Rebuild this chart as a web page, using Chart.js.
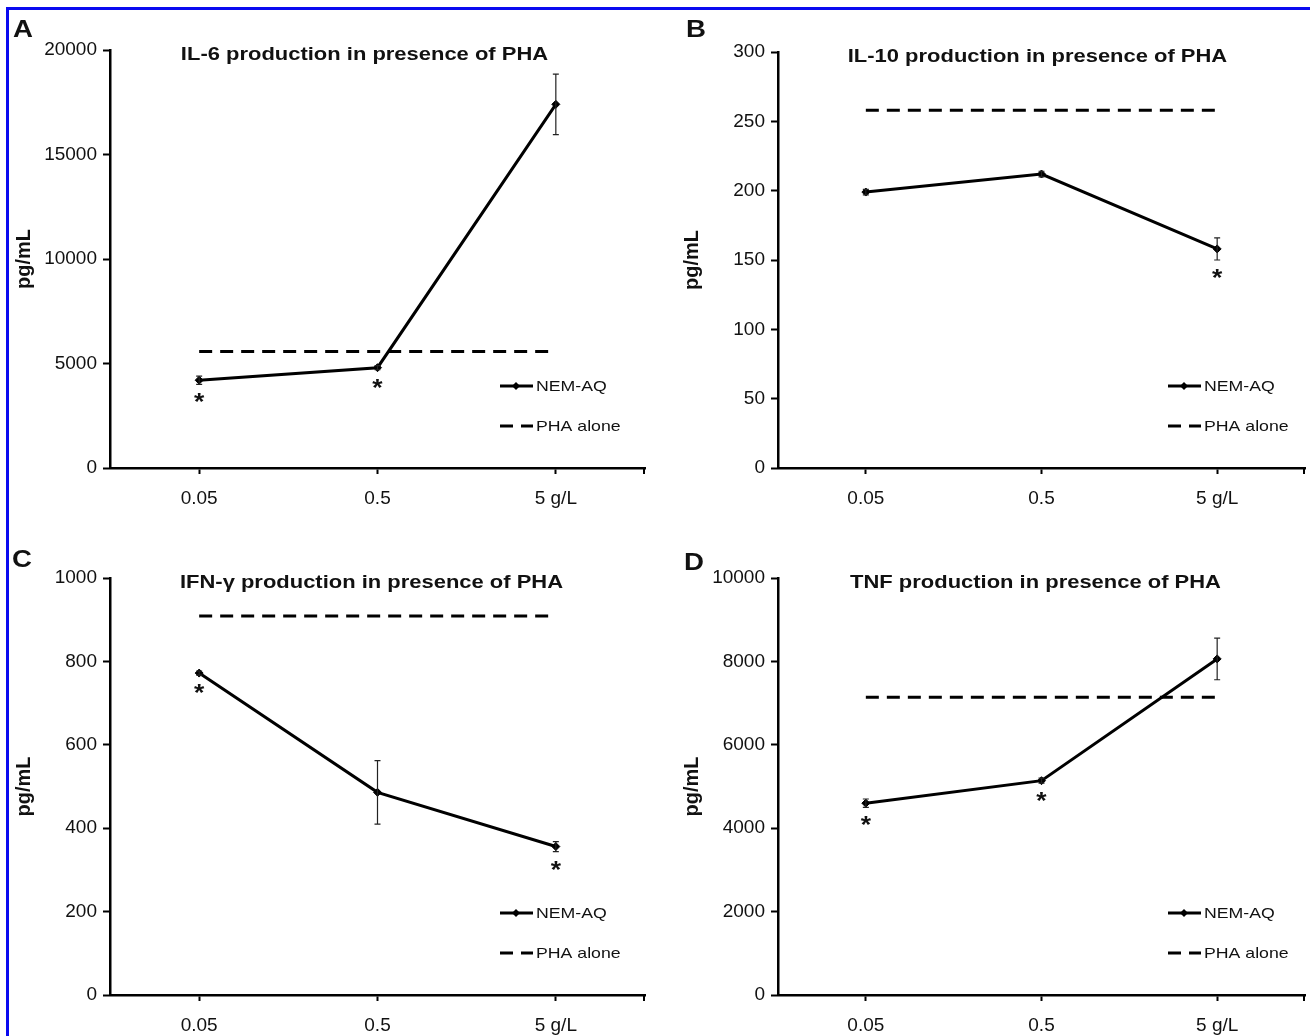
<!DOCTYPE html>
<html>
<head>
<meta charset="utf-8">
<script src="https://cdn.jsdelivr.net/npm/chart.js@4.4.0/dist/chart.umd.min.js"></script>
<style>
body { margin: 0; background: #fff; }
#quadro { position: relative; width: 1310px; height: 1036px; overflow: hidden; background: #fff; }
#borda { position: absolute; left: 6px; top: 7px; width: 1320px; height: 1040px; border-left: 3px solid #0a0af0; border-top: 3px solid #0a0af0; }
canvas { position: absolute; }
#graficoA { left: 0; top: 0; }
#graficoB { left: 668px; top: 0; }
#graficoC { left: 0; top: 520px; }
#graficoD { left: 668px; top: 520px; }
</style>
</head>
<body>
<div id="quadro">
  <div id="borda"></div>
  <canvas id="graficoA" width="655" height="518"></canvas>
  <canvas id="graficoB" width="642" height="518"></canvas>
  <canvas id="graficoC" width="655" height="516"></canvas>
  <canvas id="graficoD" width="642" height="516"></canvas>
</div>
<script>
// ----------------------- dados -----------------------//
var doses = ['0.05', '0.5', '5 g/L'];
var series = ['NEM-AQ', 'PHA alone'];

var il6 = [4200, 4800, 17400];
var il6Erro = [200, 100, 1450];
var il6Pha = [5580, 5580, 5580];
var il6Sig = [true, true, false];
var il6Ticks = [0, 5000, 10000, 15000, 20000];

var il10 = [199, 212, 158];
var il10Erro = [2, 2, 8];
var il10Pha = [258, 258, 258];
var il10Sig = [false, false, true];
var il10Ticks = [0, 50, 100, 150, 200, 250, 300];

var ifng = [772, 486, 356];
var ifngErro = [5, 76, 12];
var ifngPha = [909, 909, 909];
var ifngSig = [true, false, true];
var ifngTicks = [0, 200, 400, 600, 800, 1000];

var tnf = [4600, 5140, 8060];
var tnfErro = [100, 60, 500];
var tnfPha = [7140, 7140, 7140];
var tnfSig = [true, true, false];
var tnfTicks = [0, 2000, 4000, 6000, 8000, 10000];

var fonte = '"Liberation Sans", Arial, Helvetica, sans-serif';
Chart.defaults.font.family = fonte;
Chart.defaults.color = '#111';
Chart.defaults.animation = false;

// texto um pouco esticado na horizontal, como na figura original
function texto(ctx, s, x, y, align, esticar) {
    ctx.save();
    ctx.translate(x, y);
    ctx.scale(esticar, 1);
    ctx.textAlign = align;
    ctx.fillText(s, 0, 0);
    ctx.restore();
}

// ----------------------- plugin: barras de erro, asteriscos, titulo, legenda -----------------------//
var extras = {
    id: 'extras',
    afterDatasetsDraw: function (chart, args, opts) {
        var ctx = chart.ctx;
        var area = chart.chartArea;
        var x = chart.scales.x, y = chart.scales.y;
        var serie = chart.data.datasets[0].data;
        ctx.save();

        serie.forEach(function (v, i) {
            var px = x.getPixelForValue(i);
            var cima = y.getPixelForValue(v + opts.erro[i]);
            var baixo = y.getPixelForValue(v - opts.erro[i]);
            ctx.strokeStyle = '#222';
            ctx.lineWidth = 1.2;
            ctx.beginPath();
            ctx.moveTo(px, cima); ctx.lineTo(px, baixo);
            ctx.moveTo(px - 3, cima); ctx.lineTo(px + 3, cima);
            ctx.moveTo(px - 3, baixo); ctx.lineTo(px + 3, baixo);
            ctx.stroke();
            if (opts.sig[i]) {
                ctx.fillStyle = '#111';
                ctx.font = 'bold 23px ' + fonte;
                ctx.textBaseline = 'alphabetic';
                texto(ctx, '*', px, baixo + 26, 'center', 1.15);
            }
        });

        // tick no fim do eixo x
        ctx.strokeStyle = '#000';
        ctx.lineWidth = 2;
        ctx.beginPath();
        ctx.moveTo(area.right - 1, area.bottom);
        ctx.lineTo(area.right - 1, area.bottom + 6);
        ctx.stroke();

        // titulo
        ctx.fillStyle = '#111';
        ctx.font = 'bold 18px ' + fonte;
        ctx.textBaseline = 'middle';
        texto(ctx, opts.titulo, (area.left + area.right) / 2 + opts.desvio, area.top + 5, 'center', 1.22);

        // letra do painel
        ctx.font = 'bold 24px ' + fonte;
        ctx.textBaseline = 'alphabetic';
        texto(ctx, opts.letra, opts.letraX, opts.letraY, 'left', 1.15);

        // legenda
        var lx = area.left + 390;
        chart.data.datasets.forEach(function (ds, k) {
            var ly = area.bottom - 82 + k * 40;
            ctx.strokeStyle = '#000';
            ctx.lineWidth = 3;
            ctx.setLineDash(ds.borderDash || []);
            ctx.beginPath();
            ctx.moveTo(lx, ly);
            ctx.lineTo(lx + 33, ly);
            ctx.stroke();
            ctx.setLineDash([]);
            if (k == 0) {
                ctx.fillStyle = '#000';
                ctx.beginPath();
                ctx.moveTo(lx + 16, ly - 4);
                ctx.lineTo(lx + 20, ly);
                ctx.lineTo(lx + 16, ly + 4);
                ctx.lineTo(lx + 12, ly);
                ctx.closePath();
                ctx.fill();
            }
            ctx.fillStyle = '#111';
            ctx.font = '15px ' + fonte;
            ctx.textBaseline = 'middle';
            texto(ctx, ds.label, lx + 36, ly + 1, 'left', 1.18);
        });
        ctx.restore();
    }
};

function grafico(id, valores, pha, erro, sig, ticks, titulo, letra, cfg) {
    var ctx = document.getElementById(id).getContext('2d');
    return new Chart(ctx, {
        type: 'line',
        data: {
            labels: doses,
            datasets: [{
                label: series[0],
                data: valores,
                borderColor: '#000',
                backgroundColor: '#000',
                borderWidth: 3,
                pointStyle: 'rectRot',
                pointRadius: 4,
                pointBorderWidth: 1
            }, {
                label: series[1],
                data: pha,
                borderColor: '#000',
                borderWidth: 3,
                borderDash: [13, 8],
                pointRadius: 0
            }]
        },
        options: {
            responsive: false,
            layout: { padding: { left: 0, right: cfg.padRight, top: cfg.padTop, bottom: 0 } },
            plugins: {
                legend: { display: false },
                tooltip: { enabled: false },
                extras: { erro: erro, sig: sig, titulo: titulo, letra: letra, letraX: cfg.letraX, letraY: cfg.letraY, desvio: cfg.desvio }
            },
            scales: {
                x: {
                    offset: true,
                    grid: { display: true, drawOnChartArea: false, offset: false, tickLength: 6, tickWidth: 2, tickColor: '#000' },
                    border: { display: true, color: '#000', width: 2.5 },
                    ticks: { font: { size: 19 }, color: '#111', padding: 13, maxRotation: 0 },
                    afterFit: function (s) { s.height = cfg.xAltura; }
                },
                y: {
                    min: ticks[0],
                    max: ticks[ticks.length - 1],
                    grid: { display: true, drawOnChartArea: false, tickLength: 7, tickWidth: 2, tickColor: '#000' },
                    border: { display: true, color: '#000', width: 2.5 },
                    ticks: {
                        stepSize: ticks[1] - ticks[0],
                        font: { size: 19 },
                        color: '#111',
                        padding: 6,
                        callback: function (v) { return String(v); }
                    },
                    title: { display: true, text: 'pg/mL', font: { size: 20, weight: 'bold' }, color: '#111', padding: { top: 12, bottom: 0 } },
                    afterFit: function (s) { s.width = 110; }
                }
            }
        },
        plugins: [extras]
    });
}

// ----------------------- Painel A -----------------------//
var graficoA = grafico('graficoA', il6, il6Pha, il6Erro, il6Sig, il6Ticks,
    'IL-6 production in presence of PHA', 'A',
    { padTop: 50, padRight: 10, xAltura: 50, letraX: 13, letraY: 37, desvio: -13 });

// ----------------------- Painel B -----------------------//
var graficoB = grafico('graficoB', il10, il10Pha, il10Erro, il10Sig, il10Ticks,
    'IL-10 production in presence of PHA', 'B',
    { padTop: 52, padRight: 2, xAltura: 50, letraX: 18, letraY: 37, desvio: -4 });

// ----------------------- Painel C -----------------------//
var graficoC = grafico('graficoC', ifng, ifngPha, ifngErro, ifngSig, ifngTicks,
    'IFN-\u03B3 production in presence of PHA', 'C',
    { padTop: 58, padRight: 10, xAltura: 41, letraX: 12, letraY: 47, desvio: -6 });

// ----------------------- Painel D -----------------------//
var graficoD = grafico('graficoD', tnf, tnfPha, tnfErro, tnfSig, tnfTicks,
    'TNF production in presence of PHA', 'D',
    { padTop: 58, padRight: 2, xAltura: 41, letraX: 16, letraY: 50, desvio: -6 });
</script>
</body>
</html>
